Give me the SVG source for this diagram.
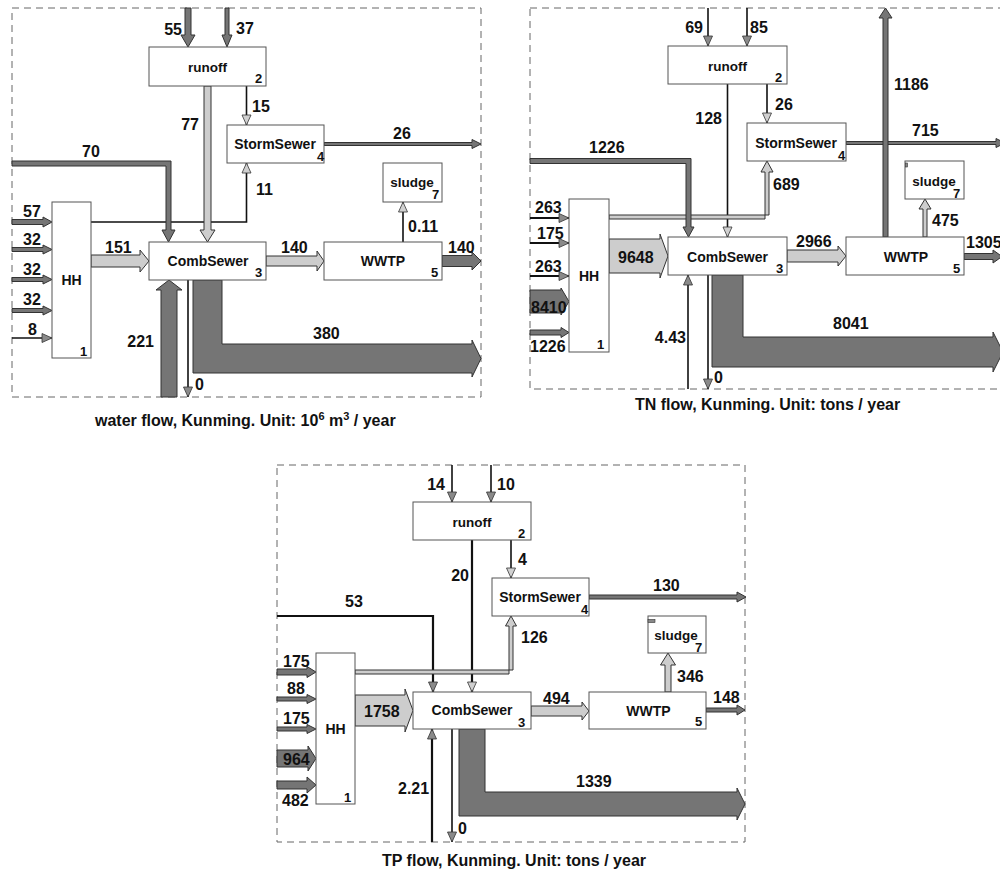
<svg xmlns="http://www.w3.org/2000/svg" width="1000" height="873" viewBox="0 0 1000 873">
<defs>
<style>
.bd{fill:none;stroke:#666;stroke-width:1;stroke-dasharray:7 5}
.box{fill:#fff;stroke:#555;stroke-width:1}
.dk{fill:#757575;stroke:#333;stroke-width:1}
.lt{fill:#cdcdcd;stroke:#333;stroke-width:1}
.sm{fill:#888;stroke:#333;stroke-width:0.6}
.ln{fill:none;stroke:#111;stroke-width:1.6}
.lnw{fill:none;stroke:#111;stroke-width:2.2}
.lA{marker-end:url(#hl)}
.dA{marker-end:url(#hd)}
text{font-family:"Liberation Sans",Arial,sans-serif;font-weight:bold;fill:#111}
.n{font-size:16px}
.b{font-size:14px}
.r{font-size:13.5px}
.sb{font-size:13px}
.cap{font-size:16px}
.m{text-anchor:middle}
.e{text-anchor:end}
</style>
<marker id="hl" viewBox="0 0 10 9" refX="10" refY="4.5" markerWidth="10" markerHeight="9" markerUnits="userSpaceOnUse" orient="auto" overflow="visible"><path d="M0,0 L10,4.5 L0,9 z" fill="#d0d0d0" stroke="#333" stroke-width="0.8"/></marker>
<marker id="hd" viewBox="0 0 10 9" refX="10" refY="4.5" markerWidth="10" markerHeight="9" markerUnits="userSpaceOnUse" orient="auto" overflow="visible"><path d="M0,0 L10,4.5 L0,9 z" fill="#8a8a8a" stroke="#333" stroke-width="0.8"/></marker>
</defs>

<!-- ================= Panel 1 : water ================= -->
<g id="p1">
<rect class="bd" x="12" y="8" width="469" height="389"/>
<g id="p1-connectors">
<path class="ln lA" d="M246.5,86 V125"/>
<path class="ln lA" d="M91,222 H246.5 V163"/>
<path class="ln lA" d="M403,242 V202"/>
<path class="ln dA" d="M12,338 H52"/>
<path class="ln dA" d="M188,280 V397"/>
<polygon class="dk" points="185,8 191,8 191,35 195,35 188,47 181,35 185,35"/>
<polygon class="dk" points="225,8 229,8 229,35 232,35 227,47 222,35 225,35"/>
<polygon class="lt" points="204,86 211,86 211,230 215,230 207.5,242 200,230 204,230"/>
<polygon class="dk" points="324,142.5 472,142.5 472,139.5 481,144 472,148.5 472,145.5 324,145.5"/>
<polygon class="dk" points="12,161 171,161 171,230 175,230 168.5,242 162,230 166,230 166,166 12,166"/>
<polygon class="dk" points="12,219.5 43,219.5 43,217 52,222 43,227 43,224.5 12,224.5"/>
<polygon class="dk" points="12,247.5 43,247.5 43,245 52,249.5 43,254 43,251.5 12,251.5"/>
<polygon class="dk" points="12,277.5 43,277.5 43,275 52,279.5 43,284 43,281.5 12,281.5"/>
<polygon class="dk" points="12,308.5 43,308.5 43,306 52,310.5 43,315 43,312.5 12,312.5"/>
<polygon class="lt" points="91,255 140,255 140,250 149,261 140,272 140,267 91,267"/>
<polygon class="lt" points="266,256 317,256 317,251 324,261 317,271 317,266 266,266"/>
<polygon class="dk" points="442,255.5 472,255.5 472,252 481,261 472,270 472,266.5 442,266.5"/>
<polygon class="dk" points="193,280 222,280 222,344 472,344 472,340 481,358.5 472,377 472,373 193,373"/>
<polygon class="dk" points="161,397 161,290 156,290 169,280 182,290 177,290 177,397"/>
</g>
<g id="p1-runoff"><rect class="box" x="149" y="47" width="117" height="39"/><text class="r m" x="207.5" y="72">runoff</text><text class="sb" x="255" y="83">2</text></g>
<g id="p1-storm"><rect class="box" x="227" y="125" width="97" height="38"/><text class="b m" x="275" y="149">StormSewer</text><text class="sb" x="317" y="161">4</text></g>
<g id="p1-sludge"><rect class="box" x="383" y="163" width="59" height="39"/><text class="r m" x="412" y="187">sludge</text><text class="sb" x="432" y="199">7</text></g>
<g id="p1-hh"><rect class="box" x="52" y="202" width="39" height="156"/><text class="b m" x="71.5" y="285">HH</text><text class="sb" x="80" y="356">1</text></g>
<g id="p1-comb"><rect class="box" x="149" y="242" width="117" height="38"/><text class="b m" x="208" y="266">CombSewer</text><text class="sb" x="255" y="277">3</text></g>
<g id="p1-wwtp"><rect class="box" x="324" y="242" width="118" height="38"/><text class="b m" x="383" y="266">WWTP</text><text class="sb" x="431" y="277">5</text></g>
<g id="p1-labels">
<text class="n e" x="182" y="35">55</text>
<text class="n" x="236" y="34">37</text>
<text class="n e" x="199" y="130">77</text>
<text class="n" x="252" y="112">15</text>
<text class="n" x="393" y="139">26</text>
<text class="n" x="82" y="157">70</text>
<text class="n" x="256" y="195">11</text>
<text class="n" x="23" y="217">57</text>
<text class="n" x="23" y="245">32</text>
<text class="n" x="23" y="275">32</text>
<text class="n" x="23" y="305">32</text>
<text class="n" x="28" y="335">8</text>
<text class="n" x="105" y="252.5">151</text>
<text class="n" x="281" y="253">140</text>
<text class="n" x="408" y="231.5">0.11</text>
<text class="n" x="448" y="253">140</text>
<text class="n" x="313" y="339">380</text>
<text class="n e" x="154" y="346.5">221</text>
<text class="n" x="195" y="390">0</text>
<text class="cap" x="95" y="426">water flow, Kunming. Unit: 10<tspan font-size="11" dy="-6">6</tspan><tspan dy="6"> m</tspan><tspan font-size="11" dy="-6">3</tspan><tspan dy="6"> / year</tspan></text>
</g>
</g>

<!-- ================= Panel 2 : TN ================= -->
<g id="p2">
<rect class="bd" x="530" y="8" width="475" height="381"/>
<g id="p2-connectors">
<path class="ln dA" d="M708,8 V46"/>
<path class="ln dA" d="M747,8 V46"/>
<path class="ln lA" d="M727.5,84 V237"/>
<path class="ln lA" d="M767,84 V123"/>
<path class="lnw dA" d="M530,218 H569"/>
<path class="lnw dA" d="M530,243 H569"/>
<path class="lnw dA" d="M530,276 H569"/>
<path class="ln dA" d="M688,389 V275"/>
<path class="ln dA" d="M708,275 V389"/>
<polygon class="dk" points="846,141.5 996,141.5 996,138.5 1005,143 996,147.5 996,144.5 846,144.5"/>
<polygon class="lt" points="609,215 769,215 769,172 773,172 767,161 761,172 765,172 765,219 609,219"/>
<polygon class="dk" points="530,158.5 691,158.5 691,227 694,227 688.5,237 683,227 686,227 686,163.5 530,163.5"/>
<polygon class="dk" points="883,237 883,18 879,18 885.5,8 892,18 888,18 888,237"/>
<polygon class="dk" points="530,290 561,290 561,288 569,301.5 561,315 561,313 530,313"/>
<polygon class="dk" points="530,330 561,330 561,327.5 569,332.5 561,337.5 561,335 530,335"/>
<polygon class="lt" points="609,239 660,239 660,234 668,256 660,278 660,273 609,273"/>
<polygon class="lt" points="787,250 838,250 838,246 846,256 838,266 838,262 787,262"/>
<polygon class="lt" points="923,237 923,209 919,209 925,199 931,209 927,209 927,237"/>
<polygon class="dk" points="964,253.5 993,253.5 993,250 1002,256.5 993,263 993,259.5 964,259.5"/>
<polygon class="dk" points="712,275 743,275 743,337 993,337 993,332 1003,352 993,372 993,367 712,367"/>
</g>
<g id="p2-runoff"><rect class="box" x="668" y="46" width="119" height="38"/><text class="r m" x="727.5" y="71">runoff</text><text class="sb" x="775" y="82">2</text></g>
<g id="p2-storm"><rect class="box" x="747" y="123" width="99" height="38"/><text class="b m" x="796" y="148">StormSewer</text><text class="sb" x="838" y="160">4</text></g>
<g id="p2-sludge"><rect class="box" x="905" y="161" width="59" height="38"/><rect class="sm" x="905.5" y="163" width="2" height="4"/><text class="r m" x="934" y="186">sludge</text><text class="sb" x="953" y="198">7</text></g>
<g id="p2-hh"><rect class="box" x="569" y="199" width="40" height="153"/><text class="b m" x="589" y="281">HH</text><text class="sb" x="597" y="349">1</text></g>
<g id="p2-comb"><rect class="box" x="668" y="237" width="119" height="38"/><text class="b m" x="727.5" y="262">CombSewer</text><text class="sb" x="776" y="273">3</text></g>
<g id="p2-wwtp"><rect class="box" x="846" y="237" width="118" height="38"/><text class="b m" x="906" y="262">WWTP</text><text class="sb" x="953" y="273">5</text></g>
<g id="p2-labels">
<text class="n e" x="703" y="33">69</text>
<text class="n" x="750" y="33">85</text>
<text class="n e" x="722" y="124">128</text>
<text class="n" x="775" y="110">26</text>
<text class="n" x="894" y="90">1186</text>
<text class="n" x="912" y="136">715</text>
<text class="n" x="589" y="153">1226</text>
<text class="n" x="773" y="190">689</text>
<text class="n" x="535" y="213">263</text>
<text class="n" x="537" y="239">175</text>
<text class="n" x="535" y="272">263</text>
<text class="n" x="531" y="312.5">8410</text>
<text class="n" x="530" y="351.5">1226</text>
<text class="n" x="618" y="263">9648</text>
<text class="n" x="796" y="246.5">2966</text>
<text class="n" x="932" y="226">475</text>
<text class="n" x="966" y="248">1305</text>
<text class="n e" x="686" y="343">4.43</text>
<text class="n" x="714" y="383">0</text>
<text class="n" x="833" y="329">8041</text>
<text class="cap" x="635" y="410">TN flow, Kunming. Unit: tons / year</text>
</g>
</g>

<!-- ================= Panel 3 : TP ================= -->
<g id="p3">
<rect class="bd" x="277" y="465" width="468" height="377"/>
<g id="p3-connectors">
<path class="ln dA" d="M452,465 V502"/>
<path class="ln dA" d="M491,465 V502"/>
<path class="lnw lA" d="M472,540 V692"/>
<path class="ln lA" d="M511,540 V578"/>
<path class="lnw dA" d="M277,616 H433 V692"/>
<path class="lnw dA" d="M432,842 V729"/>
<path class="ln dA" d="M452,729 V842"/>
<polygon class="dk" points="589,595 737,595 737,592 746,597 737,602 737,599 589,599"/>
<polygon class="lt" points="355,670 513,670 513,626 516.5,626 511,616 505.5,626 509,626 509,674 355,674"/>
<polygon class="dk" points="277,669 307,669 307,666.5 316,672 307,677.5 307,675 277,675"/>
<polygon class="dk" points="277,697 307,697 307,694.5 316,699 307,703.5 307,701 277,701"/>
<polygon class="dk" points="277,727 307,727 307,724.5 316,729 307,733.5 307,731 277,731"/>
<polygon class="dk" points="277,750 308,750 308,746 316,758.5 308,771 308,767 277,767"/>
<polygon class="dk" points="277,781 307,781 307,777 316,785 307,793 307,789 277,789"/>
<polygon class="lt" points="355,695 405,695 405,689 413,710.5 405,732 405,726 355,726"/>
<polygon class="lt" points="531,706 582,706 582,702 589,711 582,720 582,716 531,716"/>
<polygon class="lt" points="665,692 665,665 660.5,665 668,653 675.5,665 671,665 671,692"/>
<polygon class="dk" points="706,708 737,708 737,705 745,710 737,715 737,712 706,712"/>
<polygon class="dk" points="459,729 485,729 485,792 737,792 737,788 745,804 737,820 737,816 459,816"/>
</g>
<g id="p3-runoff"><rect class="box" x="413" y="502" width="118" height="38"/><text class="r m" x="472" y="527">runoff</text><text class="sb" x="518" y="538">2</text></g>
<g id="p3-storm"><rect class="box" x="492" y="578" width="97" height="38"/><text class="b m" x="540" y="602">StormSewer</text><text class="sb" x="581" y="614">4</text></g>
<g id="p3-sludge"><rect class="box" x="648" y="616" width="58" height="37"/><rect class="sm" x="648" y="619.5" width="7" height="3"/><text class="r m" x="676" y="640">sludge</text><text class="sb" x="695" y="652">7</text></g>
<g id="p3-hh"><rect class="box" x="316" y="653" width="39" height="151"/><text class="b m" x="335.5" y="734">HH</text><text class="sb" x="344" y="802">1</text></g>
<g id="p3-comb"><rect class="box" x="413" y="692" width="118" height="37"/><text class="b m" x="472" y="715">CombSewer</text><text class="sb" x="518" y="727">3</text></g>
<g id="p3-wwtp"><rect class="box" x="589" y="692" width="117" height="37"/><text class="b m" x="648.5" y="716">WWTP</text><text class="sb" x="695" y="726">5</text></g>
<g id="p3-labels">
<text class="n e" x="445" y="490">14</text>
<text class="n" x="497" y="490">10</text>
<text class="n e" x="469" y="581">20</text>
<text class="n" x="518" y="565">4</text>
<text class="n" x="653" y="591">130</text>
<text class="n" x="345" y="607">53</text>
<text class="n" x="521" y="643">126</text>
<text class="n" x="283" y="666.5">175</text>
<text class="n" x="287" y="694">88</text>
<text class="n" x="283" y="724">175</text>
<text class="n" x="283" y="765">964</text>
<text class="n" x="282" y="806">482</text>
<text class="n" x="364" y="717">1758</text>
<text class="n" x="543" y="704">494</text>
<text class="n" x="677" y="681.5">346</text>
<text class="n" x="713" y="703">148</text>
<text class="n" x="398" y="794">2.21</text>
<text class="n" x="458" y="834">0</text>
<text class="n" x="576" y="787">1339</text>
<text class="cap" x="382" y="866">TP flow, Kunming. Unit: tons / year</text>
</g>
</g>
</svg>
